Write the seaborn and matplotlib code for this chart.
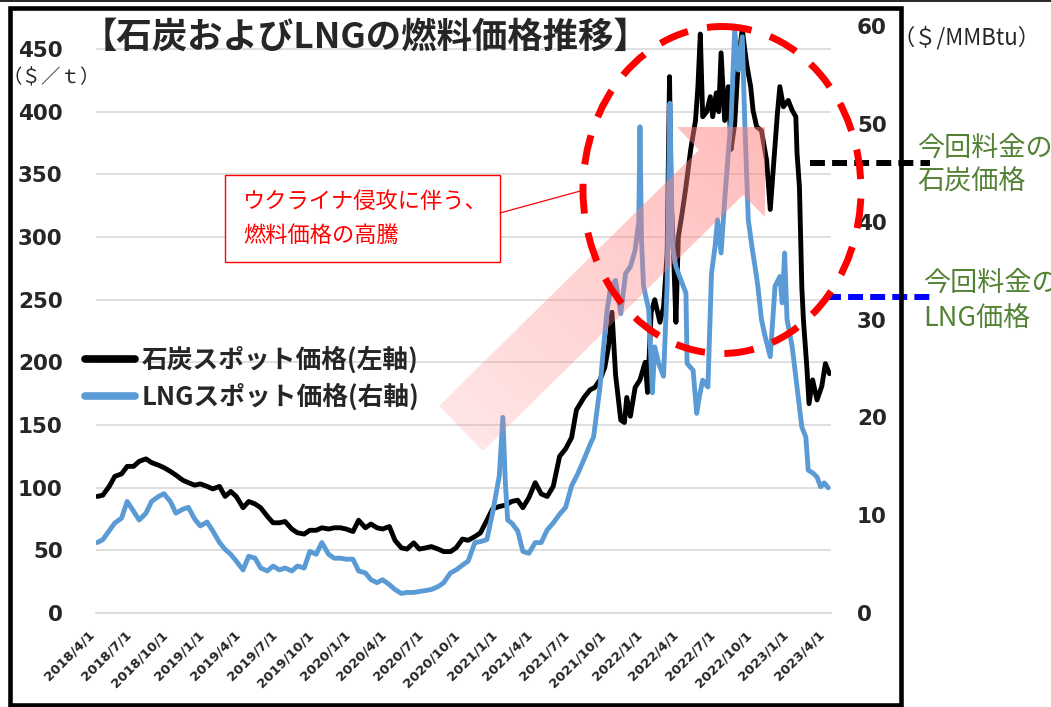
import matplotlib
matplotlib.use("Agg")
import numpy as np
import pandas as pd
import matplotlib.pyplot as plt
import matplotlib.transforms as mtransforms
from matplotlib.patches import Rectangle, Ellipse, Polygon
import seaborn as sns

W, H = 1051, 707

# ---- data ----
# semi-monthly points 2018/4/1 .. 2020/12/15
early_dates = pd.date_range("2018-04-01", "2020-12-15", freq="SMS")
coal_early = [93, 94, 101, 109, 111, 117, 117, 121, 123, 120,
              118, 116, 113, 110, 106, 104, 102, 103, 101, 99,
              101, 93, 97, 93, 84, 89, 87, 84, 77, 72,
              72, 73, 67, 64, 63, 66, 66, 68, 67, 68,
              68, 67, 65, 74, 68, 71, 68, 67, 69, 58,
              52, 51, 56, 51, 52, 53, 51, 49, 49, 52,
              59, 58, 61, 64, 74, 83]
lng_early = [7.2, 7.5, 8.4, 9.2, 9.7, 11.4, 10.4, 9.5, 10.2, 11.4,
             11.9, 12.2, 11.4, 10.2, 10.6, 10.8, 9.6, 8.9, 9.3, 8.4,
             7.2, 6.5, 6.0, 5.3, 4.4, 5.8, 5.6, 4.6, 4.3, 4.8,
             4.4, 4.6, 4.3, 4.8, 4.6, 6.3, 6.0, 7.2, 6.0, 5.6,
             5.6, 5.5, 5.5, 4.3, 4.1, 3.4, 3.1, 3.4, 2.9, 2.4,
             2.0, 2.1, 2.1, 2.2, 2.3, 2.4, 2.7, 3.1, 4.1, 4.4,
             4.9, 5.3, 7.2, 7.3, 7.5, 10.2]

coal_dates_late = [
    "2021-01-01", "2021-01-16", "2021-02-01", "2021-02-16", "2021-03-01", "2021-03-16",
    "2021-04-01", "2021-04-16", "2021-05-01", "2021-05-16", "2021-06-01", "2021-06-16",
    "2021-07-01", "2021-07-13", "2021-08-01", "2021-08-16", "2021-08-28", "2021-09-10",
    "2021-09-22", "2021-10-01", "2021-10-10", "2021-10-19", "2021-11-01", "2021-11-10",
    "2021-11-16", "2021-11-25", "2021-12-07", "2021-12-19", "2022-01-01", "2022-01-07",
    "2022-01-16", "2022-01-25", "2022-02-07", "2022-02-16", "2022-02-25", "2022-03-03",
    "2022-03-07", "2022-03-13", "2022-03-19", "2022-03-25", "2022-04-04", "2022-04-13",
    "2022-04-25", "2022-05-07", "2022-05-13", "2022-05-19", "2022-05-25", "2022-06-04",
    "2022-06-13", "2022-06-19", "2022-06-28", "2022-07-04", "2022-07-10", "2022-07-19",
    "2022-07-28", "2022-08-04", "2022-08-13", "2022-08-22", "2022-09-01", "2022-09-07",
    "2022-09-13", "2022-09-22", "2022-09-28", "2022-10-07", "2022-10-19", "2022-11-01",
    "2022-11-10", "2022-11-19", "2022-11-28", "2022-12-04", "2022-12-13", "2022-12-25",
    "2023-01-04", "2023-01-13", "2023-01-16", "2023-01-22", "2023-01-28", "2023-02-01",
    "2023-02-10", "2023-02-15", "2023-02-24", "2023-03-07", "2023-03-19", "2023-03-28",
    "2023-04-07"]
coal_late = [85, 86, 89, 90, 84, 92,
             104, 95, 93, 101, 125, 131,
             140, 162, 172, 178, 180, 186,
             196, 212, 240, 190, 154, 152,
             172, 157, 180, 186, 200, 176,
             240, 250, 232, 244, 287, 428,
             330, 287, 232, 300, 320, 340,
             370, 393, 420, 462, 396, 400,
             412, 396, 415, 400, 447, 393,
             420, 370, 390, 440, 466, 450,
             436, 420, 401, 388, 385, 361,
             322, 361, 399, 420, 404, 409,
             401, 396, 367, 340, 260, 234,
             194, 167, 186, 170, 181, 199,
             191]

lng_dates_late = [
    "2021-01-01", "2021-01-10", "2021-01-16", "2021-01-22", "2021-02-01", "2021-02-16",
    "2021-03-01", "2021-03-16", "2021-04-01", "2021-04-16", "2021-05-01", "2021-05-16",
    "2021-06-01", "2021-06-16", "2021-07-01", "2021-07-16", "2021-08-01", "2021-08-16",
    "2021-08-25", "2021-09-10", "2021-09-19", "2021-09-28", "2021-10-07", "2021-10-19",
    "2021-11-01", "2021-11-13", "2021-11-25", "2021-12-07", "2021-12-16", "2021-12-19",
    "2021-12-23", "2021-12-28", "2022-01-10", "2022-01-19", "2022-01-25", "2022-02-04",
    "2022-02-16", "2022-02-25", "2022-03-04", "2022-03-10", "2022-03-13", "2022-03-19",
    "2022-04-01", "2022-04-13", "2022-04-16", "2022-05-01", "2022-05-10", "2022-05-16",
    "2022-05-25", "2022-06-07", "2022-06-16", "2022-06-25", "2022-07-01", "2022-07-10",
    "2022-07-19", "2022-07-28", "2022-08-04", "2022-08-13", "2022-08-22", "2022-09-01",
    "2022-09-07", "2022-09-16", "2022-09-25", "2022-10-04", "2022-10-10", "2022-10-19",
    "2022-10-28", "2022-11-10", "2022-11-22", "2022-12-04", "2022-12-10", "2022-12-16",
    "2022-12-22", "2023-01-04", "2023-01-16", "2023-01-28", "2023-02-07", "2023-02-13",
    "2023-02-25", "2023-03-07", "2023-03-16", "2023-03-25", "2023-04-04"]
lng_late = [14.0, 20.0, 13.5, 9.5, 9.2, 8.4,
            6.3, 6.1, 7.2, 7.2, 8.5, 9.2,
            10.1, 10.8, 13.0, 14.2, 15.7, 17.2,
            18.0, 23.1, 27.2, 31.0, 33.4, 34.0,
            30.6, 34.7, 35.4, 37.1, 40.0, 49.7,
            38.0, 33.4, 31.0, 22.5, 27.2, 25.5,
            24.2, 33.4, 52.1, 38.0, 36.8, 35.4,
            34.0, 32.7, 25.5, 24.8, 20.4, 22.0,
            23.8, 23.1, 34.7, 37.5, 40.2, 36.8,
            42.2, 47.0, 50.4, 59.6, 55.5, 58.9,
            50.4, 40.2, 37.5, 35.1, 33.4, 30.0,
            28.3, 26.2, 33.4, 34.4, 31.7, 36.8,
            30.0, 27.2, 23.1, 19.0, 18.0, 14.6,
            14.3, 13.9, 12.9, 13.3, 12.8]

left_ticks = [0, 50, 100, 150, 200, 250, 300, 350, 400, 450]
right_ticks = [0, 10, 20, 30, 40, 50, 60]
quarter_ticks = pd.date_range("2018-04-01", "2023-04-01", freq="QS-JAN")
tick_labels = [f"{d.year}/{d.month}/{d.day}" for d in quarter_ticks]

coal_label = "石炭スポット価格(左軸)"
lng_label = "LNGスポット価格(右軸)"
coal_ref = 359    # 今回料金の石炭価格 ($/t)
lng_ref = 32.3    # 今回料金のLNG価格 ($/MMBtu)

# ---- style ----
sns.set_style("white")
plt.rcParams["font.family"] = ["Noto Sans CJK JP", "DejaVu Sans"]
JP = ["Noto Sans CJK JP", "DejaVu Sans"]
NUM = ["DejaVu Sans"]

coal_df = pd.DataFrame({"date": early_dates.append(pd.to_datetime(coal_dates_late)),
                        "price": coal_early + coal_late})
lng_df = pd.DataFrame({"date": early_dates.append(pd.to_datetime(lng_dates_late)),
                       "price": lng_early + lng_late})

fig = plt.figure(figsize=(W / 100, H / 100), dpi=100)
ax = fig.add_axes([96 / W, 1 - 613 / H, (830.6 - 96) / W, (613 - 26) / H])

sns.lineplot(data=coal_df, x="date", y="price", ax=ax, color="black",
             linewidth=3.5, legend=False)
coal_line = ax.lines[-1]

ax2 = ax.twinx()
sns.lineplot(data=lng_df, x="date", y="price", ax=ax2, color="#5b9bd5",
             linewidth=3.5, legend=False)
lng_line = ax2.lines[-1]

ax.set_xlim(pd.Timestamp("2018-03-29"), pd.Timestamp("2023-04-10"))
ax.set_ylim(0, 468.4)
ax2.set_ylim(0, 60)
ax.set_xlabel("")
ax.set_ylabel("")
ax2.set_ylabel("")

ax.set_yticks(left_ticks)
ax.set_yticklabels([str(v) for v in left_ticks], fontfamily=NUM,
                   fontweight="bold", fontsize=15.5)
ax2.set_yticks(right_ticks)
ax2.set_yticklabels([str(v) for v in right_ticks], fontfamily=NUM,
                    fontweight="bold", fontsize=15.5)
ax.set_xticks(quarter_ticks)
ax.set_xticklabels(tick_labels, rotation=45, ha="right", fontsize=9.5,
                   fontweight="bold", fontfamily=NUM)

ax.tick_params(axis="x", length=5, width=1, color="#bfbfbf", pad=6)
ax.tick_params(axis="y", length=0, pad=24)
ax2.tick_params(axis="y", length=0, pad=19)

for s in ax.spines.values():
    s.set_visible(False)
for s in ax2.spines.values():
    s.set_visible(False)
ax.spines["bottom"].set_visible(True)
ax.spines["bottom"].set_color("#d9d9d9")
ax.spines["bottom"].set_linewidth(1.2)
ax.grid(axis="y", color="#d9d9d9", linewidth=1.2)
ax.grid(axis="x", visible=False)
ax.set_axisbelow(True)

# reference price lines (dashed, stick out to the right of the plot)
tr_l = mtransforms.blended_transform_factory(ax.transAxes, ax.transData)
tr_r = mtransforms.blended_transform_factory(ax2.transAxes, ax2.transData)
ax.plot([0.972, 1.135], [coal_ref, coal_ref], transform=tr_l, color="black",
        linewidth=4.3, linestyle=(0, (2.5, 1.2)), clip_on=False, zorder=6)
ax2.plot([0.994, 1.135], [lng_ref, lng_ref], transform=tr_r, color="#0000ff",
         linewidth=4.3, linestyle=(0, (2.5, 1.2)), clip_on=False, zorder=6)

leg = fig.legend(handles=[coal_line, lng_line], labels=[coal_label, lng_label],
                 loc="center left", bbox_to_anchor=(72 / W, 1 - 378.5 / H),
                 frameon=False, prop={"family": JP, "weight": "bold", "size": 18.5},
                 handlelength=1.95, handletextpad=0.25, labelspacing=0.38,
                 borderpad=0)
for ln in leg.get_lines():
    ln.set_linewidth(5.5)

# ---- overlay in pixel coordinates for the decorations ----
ov = fig.add_axes([0, 0, 1, 1], zorder=5)
ov.set_xlim(0, W)
ov.set_ylim(H, 0)
ov.axis("off")

# outer frame
ov.add_patch(Rectangle((9.5, 8), 891, 697, fill=False, edgecolor="black",
                       linewidth=3.3))
ov.plot([0, W], [1, 1], color="black", linewidth=1.2)

# pink arrow with gradient
arrow_xy = [(439, 406), (699, 150), (677, 127), (765, 127), (765, 217),
            (743, 195), (483, 451)]
arrow = Polygon(arrow_xy, closed=True, facecolor="none", edgecolor="none")
ov.add_patch(arrow)
gx, gy = np.meshgrid(np.linspace(439, 765, 240), np.linspace(127, 451, 240))
t = np.clip(((gx - 461) - (gy - 428.5)) / np.sqrt(2) / 428.0, 0, 1)
rgba = np.zeros(gx.shape + (4,))
rgba[..., 0] = 1.0
rgba[..., 1] = 0.5
rgba[..., 2] = 0.5
rgba[..., 3] = 0.2 + 0.33 * t
im = ov.imshow(rgba, extent=(439, 765, 451, 127), origin="upper",
               interpolation="bilinear", aspect="auto")
im.set_clip_path(arrow)
ov.set_xlim(0, W)
ov.set_ylim(H, 0)

# red dashed ellipse
ov.add_patch(Ellipse((722, 190), 278, 327, fill=False, edgecolor="#ff0000",
                     linewidth=5, linestyle=(0, (4.3, 2.8))))

# callout
ov.add_patch(Rectangle((225, 175), 275, 87, facecolor="white",
                       edgecolor="#ff0000", linewidth=1))
ov.plot([500, 584], [213, 190], color="#ff0000", linewidth=0.9)
ov.text(243, 201, "ウクライナ侵攻に伴う、", color="#ff0000", fontsize=16,
        va="center", ha="left", family=JP)
ov.text(243, 235, "燃料価格の高騰", color="#ff0000", fontsize=16,
        va="center", ha="left", family=JP)

# titles and units
ov.text(82, 37, "【石炭およびLNGの燃料価格推移】", fontsize=25.5,
        fontweight="bold", va="center", ha="left", family=JP)
ov.text(3, 78, "（＄／ｔ）", fontsize=14, va="center", ha="left", family=JP)
ov.text(893, 38, "（＄/MMBtu）", fontsize=16, va="center", ha="left", family=JP)

green = "#548235"
ov.text(917, 148, "今回料金の", color=green, fontsize=19.5, va="center",
        ha="left", family=JP)
ov.text(917, 182, "石炭価格", color=green, fontsize=19.5, va="center",
        ha="left", family=JP)
ov.text(923, 283, "今回料金の", color=green, fontsize=19.5, va="center",
        ha="left", family=JP)
ov.text(923, 318, "LNG価格", color=green, fontsize=19.5, va="center",
        ha="left", family=JP)

fig.savefig("out.png", dpi=100)
